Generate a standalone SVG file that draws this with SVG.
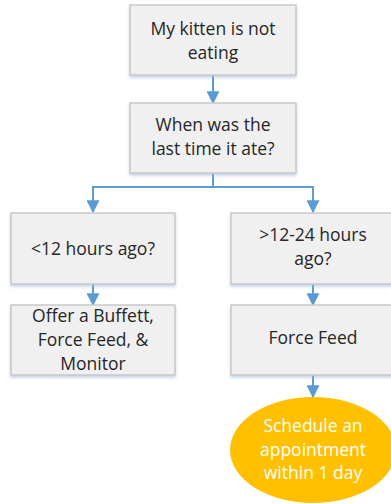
<svg xmlns="http://www.w3.org/2000/svg" width="391" height="504" viewBox="0 0 391 504">
<defs>
<style>
.box{fill:#F0F0F0;stroke:#C9C9C9;stroke-width:1.5;filter:url(#sh)}
.t{font-family:"Open Sans","Liberation Sans",sans-serif;font-size:17.5px;fill:#262626;text-anchor:middle}
.w{fill:#FFFFFF}
.c{fill:none;stroke:#5B9BD5;stroke-width:2;marker-end:url(#ah)}
</style>
<marker id="ah" viewBox="0 0 10 10" refX="9" refY="5" markerWidth="6.5" markerHeight="6.5" orient="auto" markerUnits="strokeWidth">
<path d="M0,0 L10,5 L0,10 z" fill="#5B9BD5"/>
</marker>
<filter id="sh" x="-10%" y="-10%" width="120%" height="130%">
<feDropShadow dx="0" dy="2" stdDeviation="1.5" flood-color="#9DB8D9" flood-opacity="0.6"/>
</filter>
</defs>
<rect width="391" height="504" fill="#FFFFFF"/>
<g id="connectors">
<path class="c" d="M213,75 V103"/>
<path class="c" d="M213,173 V187 H93 V212"/>
<path class="c" d="M213,187 H313 V212"/>
<path class="c" d="M93,284 V305"/>
<path class="c" d="M313,284 V305"/>
<path class="c" d="M313,375 V397"/>
</g>
<g id="n1">
<rect class="box" x="130" y="5" width="166" height="70"/>
<text class="t" x="213" y="35">My kitten is not</text>
<text class="t" x="213" y="59">eating</text>
</g>
<g id="n2">
<rect class="box" x="130" y="103" width="166" height="70"/>
<text class="t" x="213" y="131">When was the</text>
<text class="t" x="213" y="155">last time it ate?</text>
</g>
<g id="n3">
<rect class="box" x="11" y="213" width="164" height="71"/>
<text class="t" x="93" y="255">&lt;12 hours ago?</text>
</g>
<g id="n4">
<rect class="box" x="231" y="213" width="164" height="71"/>
<text class="t" x="313" y="241">&gt;12-24 hours</text>
<text class="t" x="313" y="265">ago?</text>
</g>
<g id="n5">
<rect class="box" x="11" y="305" width="164" height="70"/>
<text class="t" x="93" y="322">Offer a Buffett,</text>
<text class="t" x="93" y="346">Force Feed, &amp;</text>
<text class="t" x="93" y="370">Monitor</text>
</g>
<g id="n6">
<rect class="box" x="231" y="305" width="164" height="70"/>
<text class="t" x="313" y="344">Force Feed</text>
</g>
<g id="n7">
<ellipse cx="313" cy="450" rx="83" ry="53" fill="#FFC000"/>
<text class="t w" x="313" y="432">Schedule an</text>
<text class="t w" x="313" y="456">appointment</text>
<text class="t w" x="313" y="479">within 1 day</text>
</g>
</svg>
